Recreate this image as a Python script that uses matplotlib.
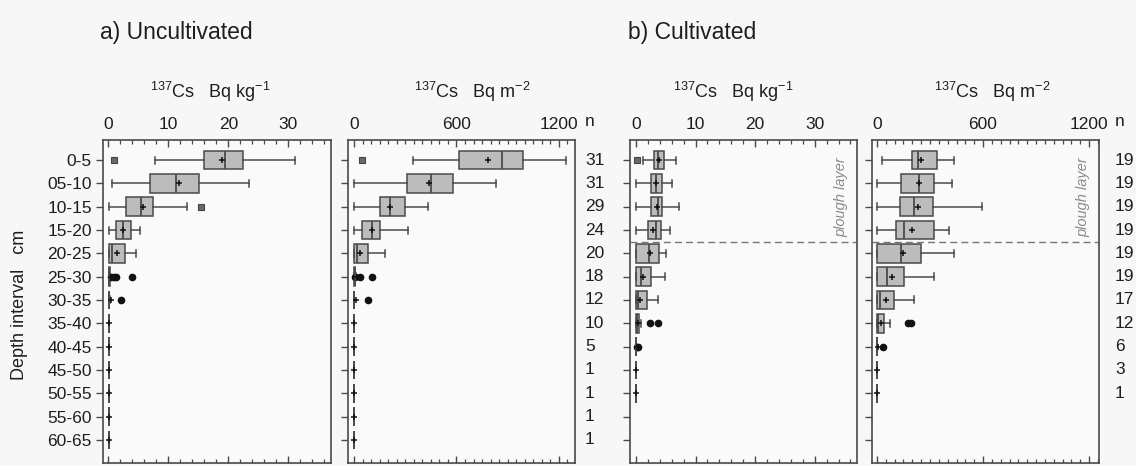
import matplotlib

matplotlib.use("Agg")
import matplotlib.pyplot as plt
from matplotlib.ticker import MultipleLocator
from matplotlib.transforms import blended_transform_factory

FONT = ["Liberation Sans", "DejaVu Sans"]

DEPTHS = ["0-5", "05-10", "10-15", "15-20", "20-25", "25-30", "30-35",
          "35-40", "40-45", "45-50", "50-55", "55-60", "60-65"]
N_UNCULT = [31, 31, 29, 24, 20, 18, 12, 10, 5, 1, 1, 1, 1]
N_CULT = [19, 19, 19, 19, 19, 19, 17, 12, 6, 3, 1]

# a) uncultivated, Bq kg-1
UK_Q1 = [16.0, 7.0, 2.9, 1.2, 0.1, 0.1, 0.1, 0.1, 0.1, 0.1, 0.1, 0.1, 0.1]
UK_MED = [19.5, 11.2, 5.4, 2.4, 0.6, 0.1, 0.1, 0.1, 0.1, 0.1, 0.1, 0.1, 0.1]
UK_Q3 = [22.5, 15.1, 7.4, 3.7, 2.7, 0.2, 0.1, 0.1, 0.1, 0.1, 0.1, 0.1, 0.1]
UK_LO = [7.8, 0.6, 0.1, 0.1, 0.1, 0.1, 0.1, 0.1, 0.1, 0.1, 0.1, 0.1, 0.1]
UK_HI = [31.1, 23.5, 13.1, 5.2, 4.6, 0.2, 0.3, 0.1, 0.1, 0.1, 0.1, 0.1, 0.1]
UK_MEAN = [19.0, 11.7, 5.7, 2.4, 1.4, 0.5, 0.4, 0.1, 0.1, 0.1, 0.1, 0.1, 0.1]
UK_MILD_ROW = [0, 2]
UK_MILD_VAL = [0.95, 15.5]
UK_EXT_ROW = [5, 5, 5, 5, 6]
UK_EXT_VAL = [0.5, 0.9, 1.2, 4.0, 2.1]

# a) uncultivated, Bq m-2
UM_Q1 = [614, 309, 155, 46, 3, 3, 3, 3, 3, 3, 3, 3, 3]
UM_MED = [868, 452, 212, 104, 15, 5, 3, 3, 3, 3, 3, 3, 3]
UM_Q3 = [988, 578, 296, 155, 85, 8, 3, 3, 3, 3, 3, 3, 3]
UM_LO = [348, 3, 3, 3, 3, 3, 3, 3, 3, 3, 3, 3, 3]
UM_HI = [1242, 834, 434, 319, 183, 10, 3, 3, 3, 3, 3, 3, 3]
UM_MEAN = [787, 442, 212, 104, 38, 15, 10, 3, 3, 3, 3, 3, 3]
UM_MILD_ROW = [0]
UM_MILD_VAL = [48]
UM_EXT_ROW = [5, 5, 5, 6]
UM_EXT_VAL = [5, 36, 107, 81]

# b) cultivated, Bq kg-1
CK_Q1 = [3.0, 2.5, 2.5, 2.1, 0, 0, 0, 0, 0, 0, 0]
CK_MED = [3.7, 3.3, 3.7, 3.3, 2.2, 0.8, 0.3, 0.2, 0, 0, 0]
CK_Q3 = [4.7, 4.3, 4.4, 4.2, 3.9, 2.5, 1.9, 0.5, 0, 0, 0]
CK_LO = [1.1, 0, 0, 0, 0, 0, 0, 0, 0, 0, 0]
CK_HI = [6.8, 6.1, 7.2, 5.7, 5.1, 4.9, 3.7, 0.9, 0, 0, 0]
CK_MEAN = [3.9, 3.3, 3.6, 2.9, 2.3, 1.2, 0.7, 0.4, 0.1, 0, 0]
CK_MILD_ROW = [0]
CK_MILD_VAL = [0.2]
CK_EXT_ROW = [7, 7, 8, 8]
CK_EXT_VAL = [2.3, 3.7, 0.15, 0.35]

# b) cultivated, Bq m-2
CM_Q1 = [196, 136, 130, 106, 0, 0, 0, 0, 0, 0, 0]
CM_MED = [234, 238, 211, 155, 134, 55, 17, 8, 0, 0, 0]
CM_Q3 = [341, 323, 315, 324, 249, 155, 96, 40, 0, 0, 0]
CM_LO = [27, 0, 0, 0, 0, 0, 0, 0, 0, 0, 0]
CM_HI = [437, 426, 593, 409, 437, 323, 209, 74, 0, 0, 0]
CM_MEAN = [249, 238, 230, 200, 149, 87, 51, 25, 8, 0, 0]
CM_MILD_ROW = []
CM_MILD_VAL = []
CM_EXT_ROW = [7, 7, 8]
CM_EXT_VAL = [178, 192, 32]

W, H = 1136, 466
BG = "#f7f7f7"
TEXT = "#1e1e1e"
EDGE = "#4a4a4a"
TICK_FS = 12.5

plt.rcParams.update({
    "font.family": FONT,
    "font.size": TICK_FS,
    "mathtext.fontset": "custom",
    "mathtext.rm": "Liberation Sans",
    "mathtext.default": "rm",
    "text.color": TEXT,
    "xtick.color": EDGE,
    "ytick.color": EDGE,
    "xtick.labelcolor": TEXT,
    "ytick.labelcolor": TEXT,
})


def px_axes(fig, left, right, top=140, bottom=463):
    return fig.add_axes([left / W, 1 - bottom / H, (right - left) / W, (bottom - top) / H])


def draw_panel(ax, q1, med, q3, lo, hi, mean, mild_row, mild_val, ext_row, ext_val,
               xlim, major, minor):
    stats = []
    for i in range(len(q1)):
        stats.append(dict(q1=q1[i], med=med[i], q3=q3[i], whislo=lo[i], whishi=hi[i],
                          mean=mean[i], fliers=[]))
    ax.bxp(
        stats,
        positions=list(range(len(stats))),
        widths=0.8,
        capwidths=0.3,
        orientation="horizontal",
        patch_artist=True,
        showmeans=True,
        showfliers=False,
        manage_ticks=False,
        boxprops=dict(facecolor="#bcbcbc", edgecolor=EDGE, linewidth=1.1),
        medianprops=dict(color=EDGE, linewidth=1.3),
        whiskerprops=dict(color=EDGE, linewidth=1.1),
        capprops=dict(color=EDGE, linewidth=1.1),
        meanprops=dict(marker="+", markeredgecolor="#111111", markersize=5, markeredgewidth=1.1),
    )
    ax.plot(mild_val, mild_row, ls="none", marker="s", ms=4, mfc="#6a6a6a", mec="#444444", mew=0.8)
    ax.plot(ext_val, ext_row, ls="none", marker="o", ms=4.5, mfc="#111111", mec="#111111")

    ax.set_facecolor("#fafafa")
    ax.set_xlim(*xlim)
    ax.set_ylim(12.99, -0.86)
    ax.xaxis.set_major_locator(MultipleLocator(major))
    ax.xaxis.set_minor_locator(MultipleLocator(minor))
    ax.xaxis.tick_top()
    ax.tick_params(axis="x", which="both", direction="in", top=True, bottom=True,
                   labeltop=True, labelbottom=False, pad=6, labelsize=TICK_FS)
    ax.tick_params(axis="x", which="major", length=5, width=1)
    ax.tick_params(axis="x", which="minor", length=3, width=0.9)
    ax.set_yticks(range(len(DEPTHS)))
    ax.tick_params(axis="y", direction="out", length=5, width=1, pad=3, labelsize=TICK_FS)
    ax.set_yticklabels([])
    for spine in ax.spines.values():
        spine.set_color(EDGE)
        spine.set_linewidth(1.2)


fig = plt.figure(figsize=(W / 100, H / 100), dpi=100, facecolor=BG)

ax1 = px_axes(fig, 103, 331)
draw_panel(ax1, UK_Q1, UK_MED, UK_Q3, UK_LO, UK_HI, UK_MEAN,
           UK_MILD_ROW, UK_MILD_VAL, UK_EXT_ROW, UK_EXT_VAL, (-0.9, 37.1), 10, 2)
ax1.set_yticklabels(DEPTHS)

ax2 = px_axes(fig, 348, 575)
draw_panel(ax2, UM_Q1, UM_MED, UM_Q3, UM_LO, UM_HI, UM_MEAN,
           UM_MILD_ROW, UM_MILD_VAL, UM_EXT_ROW, UM_EXT_VAL, (-35, 1294), 600, 50)

ax3 = px_axes(fig, 630, 857)
draw_panel(ax3, CK_Q1, CK_MED, CK_Q3, CK_LO, CK_HI, CK_MEAN,
           CK_MILD_ROW, CK_MILD_VAL, CK_EXT_ROW, CK_EXT_VAL, (-1.0, 37.1), 10, 2)

ax4 = px_axes(fig, 872, 1099)
draw_panel(ax4, CM_Q1, CM_MED, CM_Q3, CM_LO, CM_HI, CM_MEAN,
           CM_MILD_ROW, CM_MILD_VAL, CM_EXT_ROW, CM_EXT_VAL, (-28, 1256), 600, 50)

# plough layer boundary
for ax in (ax3, ax4):
    ax.axhline(3.5, color="#777777", lw=1.0, ls=(0, (5, 3)))
    trans = blended_transform_factory(ax.transAxes, ax.transData)
    ax.text(0.93, 1.6, "plough layer", transform=trans, rotation=90,
            ha="center", va="center", style="italic", fontsize=10.5, color="#8a8a8a")

# sample counts
for ax, counts, nx in ((ax2, N_UNCULT, 585 / W), (ax4, N_CULT, 1115 / W)):
    trans = blended_transform_factory(fig.transFigure, ax.transData)
    for i, n in enumerate(counts):
        ax.text(nx, i, str(n), transform=trans, ha="left", va="center",
                fontsize=TICK_FS, clip_on=False)
    fig.text(nx, 1 - 121 / H, "n", ha="left", va="center", fontsize=TICK_FS)

# panel headings and axis titles
fig.text(100 / W, 1 - 33 / H, "a) Uncultivated", ha="left", va="center", fontsize=16.5)
fig.text(628 / W, 1 - 33 / H, "b) Cultivated", ha="left", va="center", fontsize=16.5)
for cx, unit in ((210, "Bq kg$^{-1}$"), (472, "Bq m$^{-2}$"),
                 (733, "Bq kg$^{-1}$"), (992, "Bq m$^{-2}$")):
    fig.text(cx / W, 1 - 92 / H, "$^{137}$Cs   " + unit, ha="center", va="center",
             fontsize=13)
fig.text(20 / W, 1 - 305 / H, "Depth interval   cm", rotation=90, ha="center",
         va="center", fontsize=13)

fig.savefig("out.png", dpi=100, facecolor=BG)
